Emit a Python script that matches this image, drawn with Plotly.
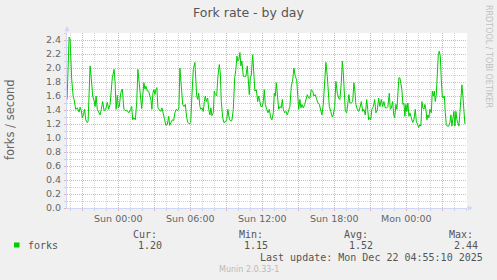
import pandas as pd
import plotly.graph_objects as go

# ---------------- data ----------------
# minutes relative to Sun 2025-12-21 00:00
minutes = [-256, -250, -246, -241, -238, -233, -226, -221, -213, -205, -196, -191, -185, -180, -175,
           -168, -163, -155, -151, -146, -141, -135, -128, -121, -116, -111, -105, -98, -91, -85,
           -78, -71, -63, -55, -48, -41, -36, -30, -21, -16, -11, -8, -5, 0, 5, 12, 20, 28, 37, 45,
           53, 62, 67, 72, 78, 85, 92, 98, 105, 112, 117, 122, 128, 133, 138, 145, 152, 158, 163,
           168, 173, 178, 183, 188, 193, 198, 205, 212, 218, 225, 232, 238, 245, 252, 257, 263, 270,
           277, 283, 290, 297, 303, 308, 315, 322, 328, 335, 342, 348, 355, 362, 368, 375, 383, 392,
           397, 402, 408, 413, 418, 425, 430, 435, 440, 447, 452, 458, 463, 468, 475, 480, 485, 492,
           498, 505, 510, 515, 522, 528, 535, 542, 548, 555, 562, 568, 575, 582, 588, 593, 598, 603,
           608, 613, 618, 625, 632, 638, 645, 650, 655, 660, 665, 672, 677, 683, 690, 697, 702, 707,
           713, 720, 725, 730, 735, 742, 748, 755, 762, 768, 775, 780, 785, 790, 795, 802, 808, 815,
           820, 825, 832, 838, 845, 852, 858, 865, 872, 878, 885, 892, 897, 902, 908, 913, 918, 925,
           932, 938, 945, 952, 958, 965, 972, 978, 985, 992, 998, 1005, 1012, 1018, 1025, 1032, 1038,
           1045, 1050, 1055, 1062, 1067, 1070, 1075, 1082, 1088, 1095, 1102, 1108, 1115, 1120, 1125,
           1130, 1135, 1142, 1148, 1153, 1158, 1165, 1172, 1178, 1183, 1188, 1195, 1202, 1208, 1215,
           1222, 1228, 1235, 1242, 1247, 1252, 1257, 1262, 1268, 1275, 1282, 1288, 1295, 1302, 1308,
           1315, 1322, 1328, 1335, 1342, 1348, 1355, 1360, 1365, 1372, 1377, 1382, 1388, 1393, 1398,
           1403, 1408, 1413, 1418, 1423, 1428, 1433, 1438, 1443, 1448, 1453, 1458, 1465, 1472, 1478,
           1485, 1490, 1495, 1502, 1508, 1513, 1518, 1523, 1528, 1533, 1538, 1543, 1548, 1553, 1558,
           1565, 1570, 1575, 1580, 1585, 1590, 1595, 1600, 1605, 1610, 1615, 1620, 1625, 1630, 1635,
           1640, 1645, 1652, 1658, 1663, 1668, 1673, 1678, 1683, 1688, 1693, 1698, 1703, 1708, 1713,
           1718, 1723, 1728, 1733]

forks = [1.55, 2.20, 2.44, 2.41, 2.17, 1.84, 1.60, 1.55, 1.41, 1.43, 1.37, 1.44, 1.39, 1.29, 1.33,
         1.41, 1.26, 1.22, 1.24, 1.79, 2.03, 1.85, 1.60, 1.53, 1.45, 1.60, 1.41, 1.37, 1.33, 1.41,
         1.52, 1.39, 1.41, 1.51, 1.41, 1.48, 1.67, 1.86, 1.98, 1.79, 1.41, 1.52, 1.61, 1.43, 1.45,
         1.64, 1.70, 1.41, 1.39, 1.39, 1.36, 1.41, 1.45, 1.26, 1.29, 1.26, 1.50, 1.98, 1.75, 1.48,
         1.42, 1.60, 1.79, 1.70, 1.74, 1.67, 1.67, 1.60, 1.55, 1.41, 1.64, 1.69, 1.62, 1.69, 1.72,
         1.43, 1.41, 1.38, 1.43, 1.36, 1.26, 1.18, 1.19, 1.31, 1.18, 1.22, 1.26, 1.25, 1.36, 1.41,
         1.39, 1.43, 2.00, 1.74, 1.48, 1.45, 1.48, 1.29, 1.22, 1.20, 1.22, 1.60, 1.98, 2.08, 1.60,
         1.55, 1.64, 1.45, 1.41, 1.43, 1.38, 1.52, 1.60, 1.52, 1.57, 1.41, 1.33, 1.43, 1.32, 1.36,
         1.67, 1.62, 1.60, 1.88, 2.05, 1.93, 1.52, 1.29, 1.22, 1.23, 1.26, 1.41, 1.27, 1.24, 1.25,
         1.41, 1.86, 1.98, 2.17, 2.10, 2.12, 2.22, 2.03, 2.10, 1.88, 1.88, 1.88, 2.03, 1.72, 1.62,
         1.86, 1.90, 2.19, 1.98, 1.67, 1.69, 1.52, 1.60, 1.50, 1.45, 1.45, 1.52, 1.69, 1.48, 1.41,
         1.36, 1.41, 1.29, 1.26, 1.36, 1.64, 1.60, 1.79, 1.62, 1.41, 1.45, 1.43, 1.55, 1.41, 1.36,
         1.38, 1.33, 1.38, 1.45, 1.74, 1.83, 2.00, 1.88, 1.83, 1.60, 1.41, 1.55, 1.43, 1.48, 1.43,
         1.48, 1.55, 1.62, 1.57, 1.57, 1.69, 1.67, 1.60, 1.62, 1.55, 1.50, 1.48, 1.38, 1.33, 1.48,
         1.88, 2.08, 1.88, 1.55, 1.45, 1.38, 1.32, 1.30, 1.33, 1.45, 1.81, 1.64, 1.57, 1.55, 1.79,
         2.10, 1.93, 1.60, 1.38, 1.36, 1.52, 1.62, 1.50, 1.50, 1.52, 1.79, 1.67, 1.48, 1.41, 1.38,
         1.43, 1.52, 1.38, 1.41, 1.33, 1.55, 1.41, 1.26, 1.29, 1.26, 1.41, 1.45, 1.55, 1.36, 1.40,
         1.57, 1.45, 1.55, 1.45, 1.52, 1.43, 1.43, 1.45, 1.64, 1.41, 1.43, 1.52, 1.33, 1.29, 1.48,
         1.41, 1.64, 1.86, 1.86, 1.79, 1.69, 1.48, 1.50, 1.31, 1.48, 1.38, 1.50, 1.31, 1.36, 1.29,
         1.22, 1.26, 1.41, 1.24, 1.19, 1.15, 1.19, 1.17, 1.52, 1.43, 1.41, 1.48, 1.41, 1.26, 1.33,
         1.29, 1.41, 1.36, 1.67, 1.60, 1.67, 1.52, 1.62, 1.98, 2.19, 2.24, 2.17, 1.83, 1.60, 1.57,
         1.60, 1.36, 1.19, 1.17, 1.17, 1.22, 1.33, 1.17, 1.29, 1.38, 1.17, 1.38, 1.26, 1.19, 1.17,
         1.36, 1.60, 1.76, 1.60, 1.36, 1.20]

tick_times = ["2025-12-20 21:00", "2025-12-21 00:00", "2025-12-21 03:00", "2025-12-21 06:00",
              "2025-12-21 09:00", "2025-12-21 12:00", "2025-12-21 15:00", "2025-12-21 18:00",
              "2025-12-21 21:00", "2025-12-22 00:00", "2025-12-22 03:00"]
tick_labels = ["", "Sun 00:00", "", "Sun 06:00", "", "Sun 12:00", "", "Sun 18:00", "", "Mon 00:00", ""]

legend_heads = ["Cur:", "Min:", "Avg:", "Max:"]
legend_values = ["1.20", "1.15", "1.52", "2.44"]
series_name = "forks"
last_update = "Last update: Mon Dec 22 04:55:10 2025"

# ---------------- figure ----------------
base = pd.Timestamp("2025-12-21 00:00")
times = base + pd.to_timedelta(minutes, unit="min")

W, H = 497, 280
L, R, T, B = 67, 30, 33, 72
PW, PH = W - L - R, H - T - B


def px(x):
    return (x - L) / PW


def py(y):
    return (T + PH - y) / PH


FONT = "DejaVu Sans"
MONO = "DejaVu Sans Mono"
FC = "#666666"
RED = "#F8A8A8"
GRAY = "#D2D2D2"
AXIS = "#CFD6F8"

fig = go.Figure()
fig.add_trace(go.Scatter(x=times, y=forks, mode="lines",
                         line=dict(color="#00CC00", width=1), showlegend=False,
                         hoverinfo="skip"))

fig.update_layout(
    width=W, height=H,
    margin=dict(l=L, r=R, t=T, b=B, pad=0),
    paper_bgcolor="#F0F0F0", plot_bgcolor="#FFFFFF",
    font=dict(family=FONT, size=9.5, color=FC),
    showlegend=False,
    xaxis=dict(
        type="date",
        range=["2025-12-20 19:43:30", "2025-12-22 05:03:30"],
        tickmode="array", tickvals=tick_times, ticktext=tick_labels,
        showgrid=True, gridcolor=RED, griddash="1px,1px", gridwidth=1,
        ticks="outside", ticklen=2, tickcolor=RED,
        showline=True, linecolor=AXIS, linewidth=1,
        zeroline=False,
        tickfont=dict(family=FONT, size=9.5, color=FC),
        minor=dict(dtick=3600000, tick0="2025-12-21 00:00", showgrid=True,
                   gridcolor=GRAY, griddash="1px,1px", gridwidth=1,
                   ticks="outside", ticklen=2, tickcolor=GRAY),
        fixedrange=True,
    ),
    yaxis=dict(
        range=[0, 2.5], dtick=0.2, tick0=0, tickformat=".1f",
        showgrid=True, gridcolor=RED, griddash="1px,1px", gridwidth=1,
        ticks="outside", ticklen=2, tickcolor=RED,
        showline=True, linecolor=AXIS, linewidth=1,
        zeroline=False,
        tickfont=dict(family=FONT, size=9.5, color=FC),
        minor=dict(dtick=0.1, tick0=0, showgrid=True, gridcolor=GRAY,
                   griddash="1px,1px", gridwidth=1,
                   ticks="outside", ticklen=2, tickcolor=GRAY),
        ticklabelstandoff=1,
        fixedrange=True,
    ),
)

ann = []
# title
ann.append(dict(text="Fork rate - by day", x=px(248), y=py(13), xref="paper", yref="paper",
                showarrow=False, xanchor="center", yanchor="middle",
                font=dict(family=FONT, size=12.5, color="#555555")))
# y axis title
ann.append(dict(text="forks / second", x=px(10), y=py(120), xref="paper", yref="paper",
                showarrow=False, xanchor="center", yanchor="middle", textangle=-90,
                font=dict(family=FONT, size=11.5, color=FC)))
# watermark on right
ann.append(dict(text="RRDTOOL / TOBI OETIKER", x=px(488.5), y=py(56.5), xref="paper", yref="paper",
                showarrow=False, xanchor="center", yanchor="middle", textangle=90,
                font=dict(family=FONT, size=8, color="#C0C0C0")))
# legend
ann.append(dict(text=series_name, x=px(26.5), y=py(245.3), xref="paper", yref="paper",
                showarrow=False, xanchor="left", yanchor="middle", borderpad=0,
                font=dict(family=MONO, size=10, color="#555555")))
head_x = [131.7, 237.7, 343.3, 447.7]
val_x = [137.3, 243.3, 348.3, 453.3]
for hx, h in zip(head_x, legend_heads):
    ann.append(dict(text=h, x=px(hx), y=py(234), xref="paper", yref="paper",
                    showarrow=False, xanchor="left", yanchor="middle", borderpad=0,
                    font=dict(family=MONO, size=10, color="#555555")))
for vx, v in zip(val_x, legend_values):
    ann.append(dict(text=v, x=px(vx), y=py(245.3), xref="paper", yref="paper",
                    showarrow=False, xanchor="left", yanchor="middle", borderpad=0,
                    font=dict(family=MONO, size=10, color="#555555")))
ann.append(dict(text=last_update, x=px(483.5), y=py(257.3), xref="paper", yref="paper",
                showarrow=False, xanchor="right", yanchor="middle", borderpad=0,
                font=dict(family=MONO, size=10, color="#555555")))
ann.append(dict(text="Munin 2.0.33-1", x=px(248.7), y=py(269.3), xref="paper", yref="paper",
                showarrow=False, xanchor="center", yanchor="middle", borderpad=0,
                font=dict(family=FONT, size=8, color="#BBBBBB")))
# axis arrows
ann.append(dict(text="", x=0, y=py(26), xref="paper", yref="paper", showarrow=True,
                ax=0, ay=8, arrowhead=2, arrowsize=1, arrowwidth=1, arrowcolor=AXIS))
ann.append(dict(text="", x=px(473), y=0, xref="paper", yref="paper", showarrow=True,
                ax=-8, ay=0, arrowhead=2, arrowsize=1, arrowwidth=1, arrowcolor=AXIS))
fig.update_layout(annotations=ann)

# legend colour box
fig.add_shape(type="rect", xref="paper", yref="paper",
              x0=px(14), x1=px(19.5), y0=py(247.5), y1=py(242.5),
              fillcolor="#00CC00", line=dict(width=0))

fig.write_html("out.html")
